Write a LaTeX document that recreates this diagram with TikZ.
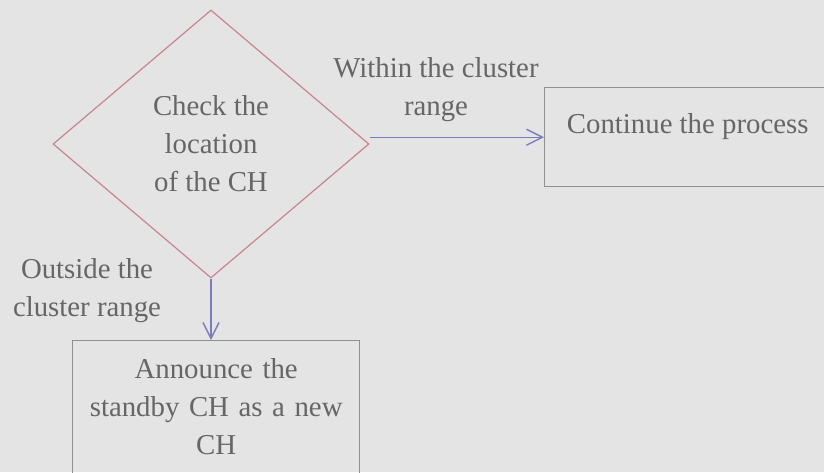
\documentclass[tikz,border=0pt]{standalone}
\usepackage{fontspec}
\setmainfont{Liberation Serif}
\usepackage{tikz}
\usetikzlibrary{positioning, arrows.meta, shapes.geometric}
\definecolor{pageBg}{HTML}{E4E4E4}
\definecolor{bodyText}{HTML}{666666}
\definecolor{decEdge}{HTML}{C8858F}
\definecolor{boxEdge}{HTML}{8C938E}
\definecolor{flowLine}{HTML}{7C7CBC}

\begin{document}
\begin{tikzpicture}[x=0.5pt, y=-0.5pt,
    every node/.style={text=bodyText, font=\fontsize{14.4}{19}\selectfont},
    dec/.style={diamond, draw=decEdge, line width=0.6pt, minimum width=158pt,
                minimum height=134pt, inner sep=0pt, align=center},
    proc/.style={rectangle, draw=boxEdge, line width=0.7pt, inner xsep=0pt, align=center},
    lbl/.style={align=center, inner sep=0pt},
    flow/.style={draw=flowLine, line width=0.7pt, -{Straight Barb[length=8pt, width=8pt]}}]
  \clip (0,0) rectangle (824,472);
  \fill[pageBg] (0,0) rectangle (824,472);
  % decision and the two outcomes
  \node[dec] (check) at (211,144) {Check the\\location\\of the CH};
  \node[proc, anchor=north west, minimum width=143pt, inner ysep=0pt,
        text height=22.75pt, text depth=26.75pt] (cont) at (544,87) {Continue the process};
  \node[proc, anchor=north west, text width=143.5pt, inner ysep=8.7pt, text depth=50pt]
        (announce) at (72,340) {Announce the\\standby CH as a new\\CH};
  % branch labels
  \node[lbl] (inside) at (436,90) {Within the cluster\\range};
  \node[lbl] (outside) at (87,291) {Outside the\\cluster range};
  \draw[flow] (check.east |- cont.west) -- (cont.west);
  \draw[flow] (check.south) -- (check.south |- announce.north);
\end{tikzpicture}
\end{document}
